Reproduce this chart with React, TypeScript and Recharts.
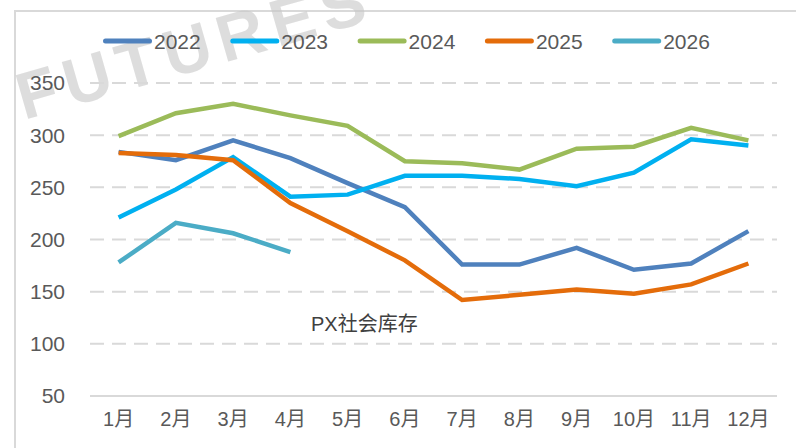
import React from 'react';
import { LineChart, Line, XAxis, YAxis, CartesianGrid } from 'recharts';

// PX social inventory by month, one series per year
const months = ['1月', '2月', '3月', '4月', '5月', '6月', '7月', '8月', '9月', '10月', '11月', '12月'];
const s2022 = [284, 276, 295, 278, 254, 231, 176, 176, 192, 171, 177, 208];
const s2023 = [221, 248, 279, 241, 243, 261, 261, 258, 251, 264, 296, 290];
const s2024 = [299, 321, 330, 319, 309, 275, 273, 267, 287, 289, 307, 295];
const s2025 = [283, 281, 276, 235, 208, 180, 142, 147, 152, 148, 157, 177];
const s2026 = [178, 216, 206, 188];
const yTicks = [50, 100, 150, 200, 250, 300, 350];
const gridValues = [100, 150, 200, 250, 300, 350];

const series = [
  { key: 'y2022', name: '2022', color: '#4F81BD', values: s2022 },
  { key: 'y2023', name: '2023', color: '#00B0F0', values: s2023 },
  { key: 'y2024', name: '2024', color: '#9BBB59', values: s2024 },
  { key: 'y2025', name: '2025', color: '#E46C0A', values: s2025 },
  { key: 'y2026', name: '2026', color: '#4BACC6', values: s2026 },
];

const data = months.map((m, i) => {
  const row: Record<string, string | number | null> = { month: m };
  series.forEach((s) => {
    row[s.key] = i < s.values.length ? s.values[i] : null;
  });
  return row;
});

const FONT = "'Liberation Sans', Arial, 'Noto Sans CJK SC', sans-serif";
const TEXT = '#595959';

export default function App() {
  return (
    <div
      style={{
        position: 'absolute',
        left: 0,
        top: 0,
        width: 796,
        height: 448,
        overflow: 'hidden',
        background: '#ffffff',
        fontFamily: FONT,
      }}
    >
      {/* chart frame */}
      <div
        style={{
          position: 'absolute',
          left: 14,
          top: 10,
          width: 820,
          height: 480,
          borderLeft: '2px solid #d9d9d9',
          borderTop: '2px solid #d9d9d9',
        }}
      />
      {/* watermark */}
      <svg width={796} height={448} style={{ position: 'absolute', left: 0, top: 0 }}>
        <text
          transform="translate(24,120) rotate(-16)"
          fontSize={66}
          fontWeight="bold"
          fontFamily={FONT}
          letterSpacing={8}
          fill="#c8c8c8"
          opacity={0.6}
        >
          FUTURES
        </text>
      </svg>
      <div style={{ position: 'absolute', left: 0, top: 0 }}>
        <LineChart
          width={796}
          height={448}
          data={data}
          margin={{ top: 83, right: 19, bottom: 22, left: 30 }}
        >
          <CartesianGrid
            vertical={false}
            horizontalValues={gridValues}
            stroke="#d9d9d9"
            strokeWidth={2}
            strokeDasharray="14 8"
          />
          <XAxis
            dataKey="month"
            interval={0}
            padding={{ left: 28.6, right: 28.6 }}
            tickLine={false}
            tickSize={0}
            tickMargin={16}
            axisLine={{ stroke: '#d9d9d9', strokeWidth: 2 }}
            tick={{ fill: TEXT, fontSize: 20, fontFamily: FONT }}
          />
          <YAxis
            width={60}
            domain={[50, 350]}
            ticks={yTicks}
            interval={0}
            axisLine={false}
            tickLine={false}
            tickSize={0}
            tickMargin={25}
            tick={{ fill: TEXT, fontSize: 21, fontFamily: FONT }}
          />
          {series.map((s) => (
            <Line
              key={s.key}
              dataKey={s.key}
              name={s.name}
              type="linear"
              stroke={s.color}
              strokeWidth={4.5}
              dot={false}
              activeDot={false}
              connectNulls={false}
              isAnimationActive={false}
            />
          ))}
        </LineChart>
      </div>
      {/* legend and caption */}
      <svg width={796} height={448} style={{ position: 'absolute', left: 0, top: 0 }}>
        {series.map((s, i) => {
          const x0 = 103 + i * 127.3;
          return (
            <g key={s.key}>
              <line
                x1={x0 + 2.5}
                x2={x0 + 46.5}
                y1={41}
                y2={41}
                stroke={s.color}
                strokeWidth={5}
                strokeLinecap="round"
              />
              <text
                x={x0 + 51}
                y={41}
                dominantBaseline="central"
                fontSize={21}
                fontFamily={FONT}
                fill={TEXT}
              >
                {s.name}
              </text>
            </g>
          );
        })}
        <text
          x={311}
          y={324}
          dominantBaseline="central"
          fontSize={20}
          fontFamily={FONT}
          fill="#404040"
        >
          PX社会库存
        </text>
      </svg>
    </div>
  );
}
